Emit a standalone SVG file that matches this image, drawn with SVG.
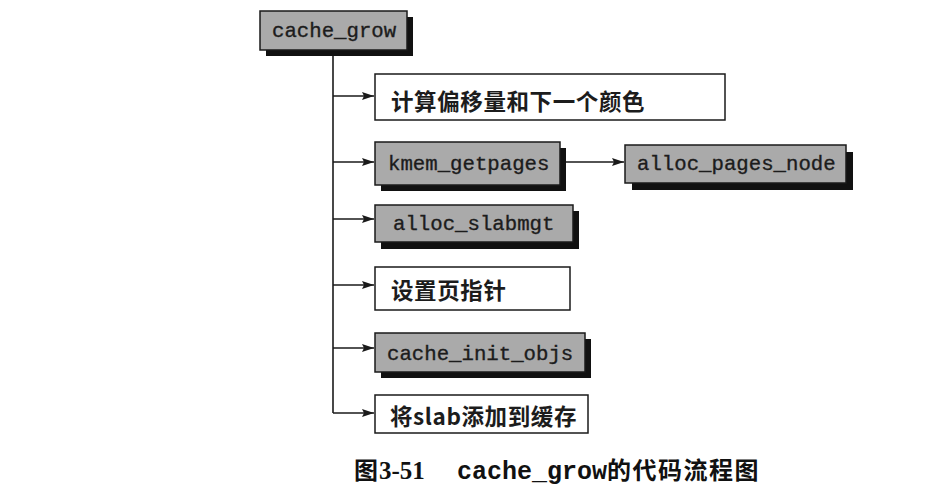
<svg xmlns="http://www.w3.org/2000/svg" width="933" height="502" viewBox="0 0 933 502">
  <defs>
    <style>
      .bg { fill: #ffffff; }
      .fn { fill: #aaaaaa; stroke: #1a1a1a; stroke-width: 1.5; }
      .step { fill: #ffffff; stroke: #1a1a1a; stroke-width: 1.5; }
      .shadow { fill: #111111; }
      .mono { font-family: "Liberation Mono", "DejaVu Sans Mono", monospace; font-size: 20.7px; fill: #1c1c1c; stroke: #1c1c1c; stroke-width: 0.35; }
      .cjk { font-family: "Noto Sans CJK SC", "Noto Sans", sans-serif; font-size: 22.5px; font-weight: bold; fill: #1c1c1c; letter-spacing: 0.6px; }
      .edge { stroke: #1a1a1a; stroke-width: 1.6; fill: none; }
      .cap-cjk { font-family: "Noto Sans CJK SC", sans-serif; font-size: 24px; font-weight: bold; fill: #111; letter-spacing: 1.5px; }
      .cap-num { font-family: "Liberation Serif", serif; font-size: 25px; font-weight: bold; fill: #111; }
      .cap-mono { font-family: "Liberation Mono", monospace; font-size: 25px; font-weight: bold; fill: #111; }
    </style>
    <marker id="arrow" viewBox="0 0 12 8" refX="12" refY="4" markerWidth="12" markerHeight="8" markerUnits="userSpaceOnUse" orient="auto">
      <path d="M0,0 L12,4 L0,8 L2,4 Z" fill="#1a1a1a"/>
    </marker>
  </defs>

  <rect class="bg" x="0" y="0" width="933" height="502"/>

  <!-- connectors -->
  <g id="connectors">
    <path class="edge" d="M333,50 V413"/>
    <path class="edge" d="M333,96 H374" marker-end="url(#arrow)"/>
    <path class="edge" d="M333,162 H374" marker-end="url(#arrow)"/>
    <path class="edge" d="M333,219 H374" marker-end="url(#arrow)"/>
    <path class="edge" d="M333,285 H374" marker-end="url(#arrow)"/>
    <path class="edge" d="M333,348 H374" marker-end="url(#arrow)"/>
    <path class="edge" d="M333,413 H374" marker-end="url(#arrow)"/>
    <path class="edge" d="M566,162 H624" marker-end="url(#arrow)"/>
  </g>

  <!-- nodes -->
  <g id="cache_grow">
    <rect class="shadow" x="266" y="17" width="147" height="39"/>
    <rect class="fn" x="260" y="11" width="147" height="39"/>
    <text class="mono" x="272" y="37">cache_grow</text>
  </g>

  <g id="calc_offset">
    <rect class="step" x="375" y="74" width="350" height="46"/>
    <text class="cjk" x="391" y="110">计算偏移量和下一个颜色</text>
  </g>

  <g id="kmem_getpages">
    <rect class="shadow" x="381" y="148" width="185" height="43"/>
    <rect class="fn" x="375" y="142" width="185" height="43"/>
    <text class="mono" x="388" y="170">kmem_getpages</text>
  </g>

  <g id="alloc_pages_node">
    <rect class="shadow" x="632" y="152" width="221" height="38"/>
    <rect class="fn" x="625" y="145" width="221" height="38"/>
    <text class="mono" x="637" y="170">alloc_pages_node</text>
  </g>

  <g id="alloc_slabmgt">
    <rect class="shadow" x="381" y="211" width="198" height="38"/>
    <rect class="fn" x="375" y="205" width="198" height="37"/>
    <text class="mono" x="393" y="230">alloc_slabmgt</text>
  </g>

  <g id="set_page_ptr">
    <rect class="step" x="375" y="267" width="195" height="43"/>
    <text class="cjk" x="391" y="299">设置页指针</text>
  </g>

  <g id="cache_init_objs">
    <rect class="shadow" x="381" y="339" width="210" height="39"/>
    <rect class="fn" x="375" y="333" width="210" height="39"/>
    <text class="mono" x="387" y="360">cache_init_objs</text>
  </g>

  <g id="add_slab">
    <rect class="step" x="375" y="395" width="213" height="38"/>
    <text class="cjk" x="390" y="425">将slab添加到缓存</text>
  </g>

  <!-- caption -->
  <g id="caption">
    <text class="cap-cjk" x="354" y="479">图</text>
    <text class="cap-num" x="379" y="479">3-51</text>
    <text class="cap-mono" x="457" y="479">cache_grow</text>
    <text class="cap-cjk" x="607" y="479">的代码流程图</text>
  </g>
</svg>
